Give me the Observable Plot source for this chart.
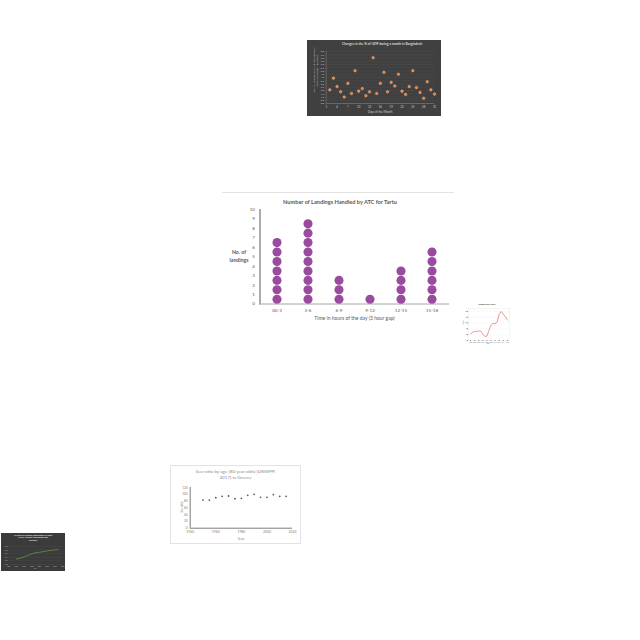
<!DOCTYPE html>
<html><head><meta charset="utf-8">
<script src="https://cdn.jsdelivr.net/npm/d3@7"></script>
<script src="https://cdn.jsdelivr.net/npm/@observablehq/plot@0.6"></script>
<style>
html,body{margin:0;padding:0;background:#fff;}
#page{position:relative;width:640px;height:640px;overflow:hidden;font-family:Lato,"Open Sans",sans-serif;}
.abs{position:absolute;}
.t{position:absolute;white-space:nowrap;line-height:1;}
svg{overflow:visible;}
</style></head><body><div id="page"></div>
<script>
// ---------- Data ----------
// Main chart: Number of Landings Handled by ATC for Tartu
const timeSlots = ["00-3", "3-6", "6-9", "9-12", "12-15", "15-18"];
const landings = [7, 9, 3, 1, 4, 6];
const landingTicks = [0, 1, 2, 3, 4, 5, 6, 7, 8, 9, 10];

// Thumbnail: Changes in the % of GDP during a month in Bangladesh
const gdpDays = [2,3,4,5,6,7,8,9,10,11,12,13,14,15,16,17,18,19,20,21,22,23,24,25,26,27,28,29,30,31];
const gdpShare = [2.1,3.9,2.6,1.8,1.0,3.1,1.55,5.05,1.9,2.3,1.2,1.8,7.05,1.55,3.1,4.8,1.8,3.25,2.7,4.5,1.9,1.4,2.6,5.05,2.45,1.7,0.8,3.35,2.1,1.45];
const gdpDayTicks = [1,4,7,10,13,16,19,22,25,28,31];
const gdpShareTicks = [0,0.5,1,1.5,2,2.5,3,3.5,4,4.5,5,5.5,6,6.5,7,7.5,8];

// Thumbnail: red line chart
const lineYears = [1998,1999,2000,2001,2002,2003,2004,2005,2006,2007,2008,2009,2010,2011,2012,2013,2014,2015,2016];
const lineValues = [23,28,31,32,32.5,32,22,14,15,35,53,59,57,65,91,100,90,82,70];

// Thumbnail: Sex ratio by age (80 year olds) in Greece
const sexYears = [1950,1955,1960,1965,1970,1975,1980,1985,1990,1995,2000,2005,2010,2015];
const sexRatio = [83,83,90,94,95,87,88,97,100,91,91,99,94,94];
const sexYearTicks = [1940,1960,1980,2000,2020];
const sexRatioTicks = [0,20,40,60,80,100,120];

// Thumbnail: % share of female population in East Asia & Pacific
const femYears = [1990,1993,1996,1999,2002,2005,2008,2011,2014,2017];
const femShare = [48.30,48.36,48.45,48.56,48.64,48.68,48.72,48.77,48.80,48.83];

// ---------- Helpers ----------
const page = document.getElementById("page");
function place(node, left, top) {
  const d = document.createElement("div");
  d.className = "abs";
  d.style.left = left + "px";
  d.style.top = top + "px";
  d.appendChild(node);
  page.appendChild(d);
  return d;
}
function text(str, x, y, size, color, weight, opts = {}) {
  const d = document.createElement("div");
  d.className = "t";
  d.innerHTML = str;
  d.style.left = x + "px";
  d.style.top = y + "px";
  d.style.fontSize = size + "px";
  d.style.color = color;
  d.style.fontWeight = weight || "normal";
  d.style.textAlign = "center";
  if (opts.lineHeight) d.style.lineHeight = opts.lineHeight;
  d.style.transform = "translate(-50%,-50%)" + (opts.rotate ? ` rotate(${opts.rotate}deg)` : "");
  page.appendChild(d);
  return d;
}
function box(left, top, w, h, css) {
  const d = document.createElement("div");
  d.className = "abs";
  Object.assign(d.style, {left: left + "px", top: top + "px", width: w + "px", height: h + "px"}, css);
  page.appendChild(d);
  return d;
}

// ---------- Main chart ----------
box(222, 192, 232, 0, {borderTop: "1px solid #e3e3e3"});
const dots = timeSlots.flatMap((c, i) => d3.range(landings[i]).map(k => ({slot: c, n: k + 0.5})));
const mainChart = Plot.plot({
  width: 232, height: 135,
  marginLeft: 37.5, marginRight: 5, marginTop: 17, marginBottom: 23.5,
  style: {background: "transparent", fontFamily: "Lato, sans-serif", color: "#595959"},
  x: {type: "band", domain: timeSlots, padding: 0, axis: null},
  y: {domain: [0, 10], axis: null},
  marks: [
    Plot.axisY({ticks: landingTicks, tickSize: 0, tickPadding: 5, fontSize: 4.6, label: null}),
    Plot.axisX({tickSize: 0, tickPadding: 5, fontSize: 4.6, label: null}),
    Plot.frame({anchor: "left", stroke: "#595959", strokeWidth: 1}),
    Plot.ruleY([0], {stroke: "#a6a6a6", strokeWidth: 1}),
    Plot.dot(dots, {x: "slot", y: "n", r: 4.55, fill: "#9a4b9f"})
  ]
});
place(mainChart, 222, 192);
text("Number of Landings Handled by ATC for Tartu", 340, 202, 5.6, "#595959", "bold");
text("No. of<br>landings", 239, 256.5, 5.2, "#595959", "bold", {lineHeight: "1.7"});
text("Time in hours of the day (3 hour gap)", 354.5, 318, 5.0, "#595959", "normal");

// ---------- Bangladesh GDP thumbnail ----------
box(307, 40, 134, 76, {background: "#404040"});
const gdpChart = Plot.plot({
  width: 134, height: 76,
  marginLeft: 18.7, marginRight: 7, marginTop: 11, marginBottom: 13,
  style: {background: "transparent", fontFamily: "Lato, sans-serif", color: "#d0d0d0"},
  x: {domain: [1, 31], axis: null},
  y: {domain: [0, 8], axis: null},
  marks: [
    Plot.gridY(gdpShareTicks, {stroke: "#555", strokeOpacity: 1, strokeWidth: 0.3}),
    Plot.axisY({ticks: gdpShareTicks, tickSize: 0, tickPadding: 2, fontSize: 2.4, label: null, tickFormat: d => d.toFixed(1)}),
    Plot.axisX({ticks: gdpDayTicks, tickSize: 0, tickPadding: 2, fontSize: 2.8, label: null}),
    Plot.ruleY([0], {stroke: "#8a8a8a", strokeWidth: 0.5}),
    Plot.ruleX([1], {stroke: "#8a8a8a", strokeWidth: 0.5}),
    Plot.dot(gdpDays.map((d, i) => ({day: d, v: gdpShare[i]})), {x: "day", y: "v", r: 1.3, fill: "#ed7d31", stroke: "#f8cbad", strokeWidth: 0.4})
  ]
});
place(gdpChart, 307, 40);
text("Changes in the % of GDP during a month in Bangladesh", 382, 44.7, 3.3, "#ffffff", "normal");
text("Agricultural sector contributing to GDP value<br>added (% of GDP) in Bangladesh", 315.5, 70, 2.3, "#d0d0d0", "normal", {rotate: -90, lineHeight: "1.3"});
text("Days of the Month", 380, 112, 3.0, "#d0d0d0", "normal");

// ---------- Red line thumbnail ----------
const lineChart = Plot.plot({
  width: 50, height: 42,
  marginLeft: 6, marginRight: 3, marginTop: 6, marginBottom: 4,
  style: {background: "transparent", fontFamily: "Lato, sans-serif", color: "#777"},
  x: {domain: [1997, 2017], axis: null},
  y: {domain: [0, 110], axis: null},
  marks: [
    Plot.frame({stroke: "#e4e4e4", strokeWidth: 0.4}),
    Plot.gridY({ticks: 6, stroke: "#eee", strokeOpacity: 1, strokeWidth: 0.3}),
    Plot.axisY({ticks: 6, tickSize: 0.8, tickPadding: 0.6, fontSize: 1.4, label: null}),
    Plot.axisX({ticks: 10, tickSize: 0.8, tickPadding: 0.6, fontSize: 1.4, label: null, tickFormat: d => String(d)}),
    Plot.line(lineYears.map((y, i) => ({year: y, v: lineValues[i]})), {x: "year", y: "v", stroke: "#e46c6c", strokeWidth: 0.7})
  ]
});
place(lineChart, 462, 302);
text("Inflation rate, yearly", 487, 305, 1.9, "#333", "bold");
text("Rate (%)", 463.5, 322, 1.5, "#666", "normal", {rotate: -90});
text("Year", 488, 343.5, 1.6, "#666", "normal");

// ---------- Sex ratio thumbnail ----------
box(170, 465, 131, 79, {border: "1px solid #e3e3e3", boxSizing: "border-box", background: "#fff"});
const sexChart = Plot.plot({
  width: 131, height: 79,
  marginLeft: 19.7, marginRight: 9, marginTop: 22, marginBottom: 16.3,
  style: {background: "transparent", fontFamily: "Lato, sans-serif", color: "#7f7f7f"},
  x: {domain: [1940, 2020], axis: null},
  y: {domain: [0, 120], axis: null},
  marks: [
    Plot.axisY({ticks: sexRatioTicks, tickSize: 0, tickPadding: 2.5, fontSize: 3.2, label: null}),
    Plot.axisX({ticks: sexYearTicks, tickSize: 0, tickPadding: 2.5, fontSize: 3.4, label: null, tickFormat: d => String(d)}),
    Plot.ruleY([0], {stroke: "#595959", strokeWidth: 0.8}),
    Plot.ruleX([1940], {stroke: "#595959", strokeWidth: 0.8}),
    Plot.dot(sexYears.map((y, i) => ({year: y, v: sexRatio[i]})), {x: "year", y: "v", r: 0.9, fill: "#595959"})
  ]
});
place(sexChart, 170, 465);
text("Sex ratio by age (80 year olds) (UNWPP,<br>2017) in Greece", 235.5, 475, 4.6, "#8c8c8c", "normal", {lineHeight: "1.25"});
text("Sex ratio", 181.5, 507, 2.8, "#7f7f7f", "normal", {rotate: -90});
text("Years", 241, 539.3, 3.0, "#7f7f7f", "normal");

// ---------- Female population thumbnail ----------
box(1, 533, 64, 38, {background: "#3b3b3b"});
const femChart = Plot.plot({
  width: 64, height: 38,
  marginLeft: 7, marginRight: 3, marginTop: 13, marginBottom: 7,
  style: {background: "transparent", fontFamily: "Lato, sans-serif", color: "#bbb"},
  x: {domain: [1985, 2020], axis: null},
  y: {domain: [48.0, 49.0], axis: null},
  marks: [
    Plot.gridY({ticks: 5, stroke: "#555", strokeOpacity: 1, strokeWidth: 0.3}),
    Plot.axisY({ticks: 5, tickSize: 0, tickPadding: 1, fontSize: 1.5, label: null}),
    Plot.axisX({ticks: 7, tickSize: 0, tickPadding: 1, fontSize: 1.5, label: null, tickFormat: d => String(d)}),
    Plot.line(femYears.map((y, i) => ({year: y, v: femShare[i]})), {x: "year", y: "v", stroke: "#70ad47", strokeWidth: 0.6})
  ]
});
place(femChart, 1, 533);
text("% share of female population in East<br>Asia &amp; Pacific (excluding high<br>income)", 33, 538.5, 2.4, "#ffffff", "normal", {lineHeight: "1.2"});
text("Year", 35, 569, 1.6, "#bbb", "normal");
</script>
</body></html>
